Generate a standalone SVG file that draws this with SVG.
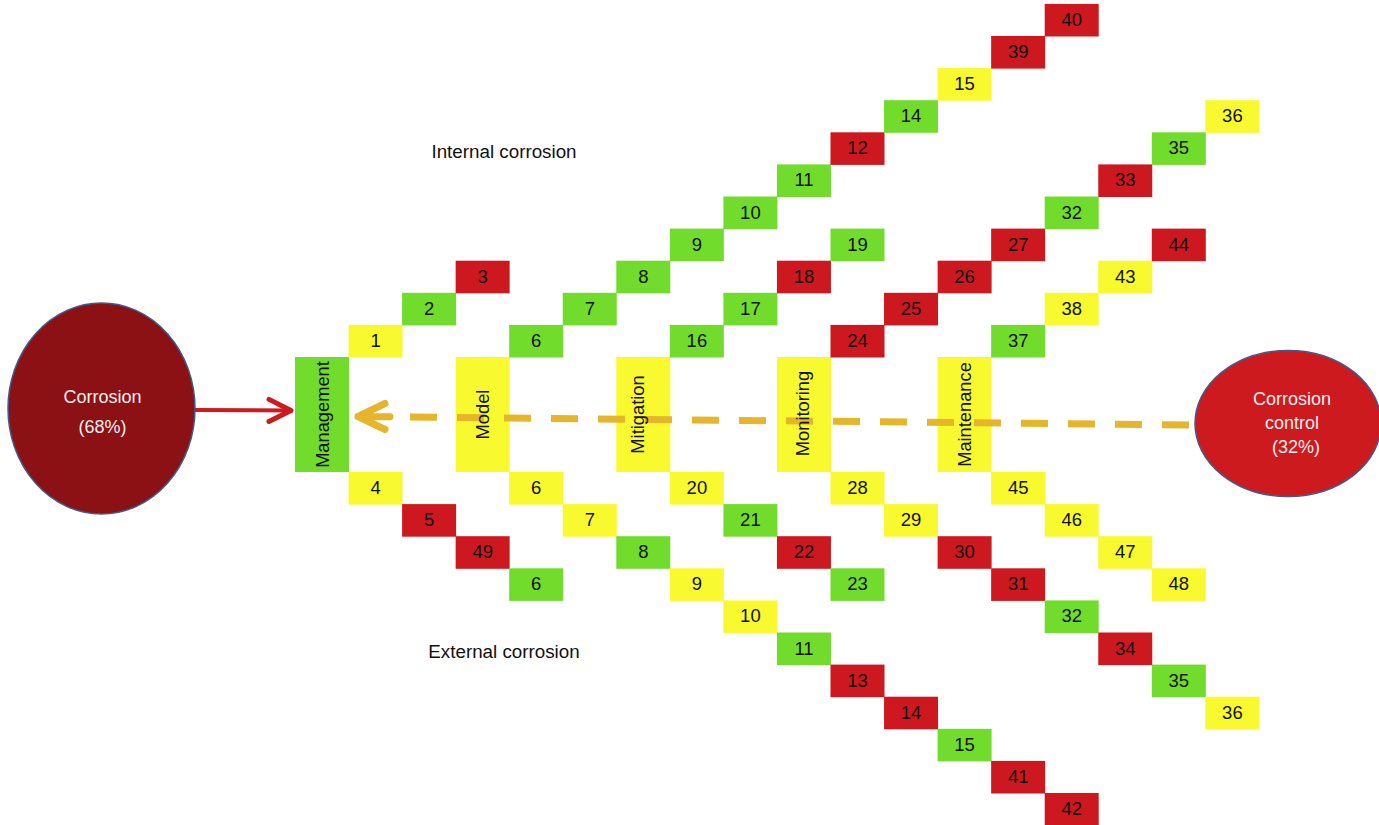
<svg xmlns="http://www.w3.org/2000/svg" width="1379" height="825" viewBox="0 0 1379 825">
  <style>
    text { font-family: "Liberation Sans", Arial, sans-serif; }
    .g { fill: #72DC2C; }
    .y { fill: #F9F92F; }
    .r { fill: #CC181E; }
    .num { font-size: 18.5px; fill: #111111; text-anchor: middle; }
    .hdr { font-size: 18.3px; fill: #111111; text-anchor: middle; }
    .lbl { font-size: 18.8px; fill: #111111; text-anchor: middle; }
    .ell { font-size: 18px; fill: #F4EEEE; text-anchor: middle; }
    .cause { stroke: #3E5C90; stroke-width: 1.5; }
  </style>
  <defs>
    <marker id="openHeadRed" viewBox="0 0 30 30" refX="26" refY="15" markerWidth="30" markerHeight="30" markerUnits="userSpaceOnUse" orient="auto">
      <path d="M4 4 L26 15 L4 26" fill="none" stroke="#CC1A1E" stroke-width="5" stroke-linecap="round" stroke-linejoin="round"/>
    </marker>
  </defs>

  <!-- cause / target ellipses -->
  <g id="corrosion">
    <ellipse class="cause" cx="101.5" cy="408.5" rx="93.5" ry="105.5" fill="#8B1114"/>
    <text class="ell" x="102.5" y="403">Corrosion</text>
    <text class="ell" x="102.5" y="433">(68%)</text>
  </g>
  <g id="corrosion-control">
    <ellipse class="cause" cx="1288" cy="423.5" rx="93" ry="73" fill="#CC1A1E"/>
    <text class="ell" x="1292" y="405">Corrosion</text>
    <text class="ell" x="1292" y="429">control</text>
    <text class="ell" x="1296" y="453">(32%)</text>
  </g>

  <!-- category header boxes -->
  <g id="management"><rect class="g" x="295" y="357" width="54" height="115"/></g>
  <g id="model"><rect class="y" x="455.65" y="357" width="54" height="115"/></g>
  <g id="mitigation"><rect class="y" x="616.3" y="357" width="54" height="115"/></g>
  <g id="monitoring"><rect class="y" x="776.95" y="357" width="54" height="115"/></g>
  <g id="maintenance"><rect class="y" x="937.6" y="357" width="54" height="115"/></g>

  <!-- branch labels -->
  <text id="internal-label" class="lbl" x="504" y="158">Internal corrosion</text>
  <text id="external-label" class="lbl" x="504" y="658">External corrosion</text>

  <!-- upper (internal) cells -->
  <g id="up-1"><rect class="y" x="348.55" y="324.9" width="54" height="32.6"/><text class="num" x="375.6" y="346.9">1</text></g>
  <g id="up-2"><rect class="g" x="402.1" y="292.8" width="54" height="32.6"/><text class="num" x="429.1" y="314.8">2</text></g>
  <g id="up-3"><rect class="r" x="455.65" y="260.7" width="54" height="32.6"/><text class="num" x="482.7" y="282.7">3</text></g>

  <g id="up-6"><rect class="g" x="509.2" y="324.9" width="54" height="32.6"/><text class="num" x="536.2" y="346.9">6</text></g>
  <g id="up-7"><rect class="g" x="562.75" y="292.8" width="54" height="32.6"/><text class="num" x="589.8" y="314.8">7</text></g>
  <g id="up-8"><rect class="g" x="616.3" y="260.7" width="54" height="32.6"/><text class="num" x="643.3" y="282.7">8</text></g>
  <g id="up-9"><rect class="g" x="669.85" y="228.6" width="54" height="32.6"/><text class="num" x="696.9" y="250.6">9</text></g>
  <g id="up-10"><rect class="g" x="723.4" y="196.5" width="54" height="32.6"/><text class="num" x="750.4" y="218.5">10</text></g>
  <g id="up-11"><rect class="g" x="776.95" y="164.4" width="54" height="32.6"/><text class="num" x="804" y="186.4">11</text></g>
  <g id="up-12"><rect class="r" x="830.5" y="132.3" width="54" height="32.6"/><text class="num" x="857.5" y="154.3">12</text></g>
  <g id="up-14"><rect class="g" x="884.05" y="100.2" width="54" height="32.6"/><text class="num" x="911.1" y="122.2">14</text></g>
  <g id="up-15"><rect class="y" x="937.6" y="68.1" width="54" height="32.6"/><text class="num" x="964.6" y="90.1">15</text></g>
  <g id="up-39"><rect class="r" x="991.15" y="36" width="54" height="32.6"/><text class="num" x="1018.2" y="58">39</text></g>
  <g id="up-40"><rect class="r" x="1044.7" y="3.9" width="54" height="32.6"/><text class="num" x="1071.7" y="25.9">40</text></g>

  <g id="up-16"><rect class="g" x="669.85" y="324.9" width="54" height="32.6"/><text class="num" x="696.9" y="346.9">16</text></g>
  <g id="up-17"><rect class="g" x="723.4" y="292.8" width="54" height="32.6"/><text class="num" x="750.4" y="314.8">17</text></g>
  <g id="up-18"><rect class="r" x="776.95" y="260.7" width="54" height="32.6"/><text class="num" x="804" y="282.7">18</text></g>
  <g id="up-19"><rect class="g" x="830.5" y="228.6" width="54" height="32.6"/><text class="num" x="857.5" y="250.6">19</text></g>

  <g id="up-24"><rect class="r" x="830.5" y="324.9" width="54" height="32.6"/><text class="num" x="857.5" y="346.9">24</text></g>
  <g id="up-25"><rect class="r" x="884.05" y="292.8" width="54" height="32.6"/><text class="num" x="911.1" y="314.8">25</text></g>
  <g id="up-26"><rect class="r" x="937.6" y="260.7" width="54" height="32.6"/><text class="num" x="964.6" y="282.7">26</text></g>
  <g id="up-27"><rect class="r" x="991.15" y="228.6" width="54" height="32.6"/><text class="num" x="1018.2" y="250.6">27</text></g>
  <g id="up-32"><rect class="g" x="1044.7" y="196.5" width="54" height="32.6"/><text class="num" x="1071.7" y="218.5">32</text></g>
  <g id="up-33"><rect class="r" x="1098.25" y="164.4" width="54" height="32.6"/><text class="num" x="1125.3" y="186.4">33</text></g>
  <g id="up-35"><rect class="g" x="1151.8" y="132.3" width="54" height="32.6"/><text class="num" x="1178.8" y="154.3">35</text></g>
  <g id="up-36"><rect class="y" x="1205.35" y="100.2" width="54" height="32.6"/><text class="num" x="1232.4" y="122.2">36</text></g>

  <g id="up-37"><rect class="g" x="991.15" y="324.9" width="54" height="32.6"/><text class="num" x="1018.2" y="346.9">37</text></g>
  <g id="up-38"><rect class="y" x="1044.7" y="292.8" width="54" height="32.6"/><text class="num" x="1071.7" y="314.8">38</text></g>
  <g id="up-43"><rect class="y" x="1098.25" y="260.7" width="54" height="32.6"/><text class="num" x="1125.3" y="282.7">43</text></g>
  <g id="up-44"><rect class="r" x="1151.8" y="228.6" width="54" height="32.6"/><text class="num" x="1178.8" y="250.6">44</text></g>

  <!-- lower (external) cells -->
  <g id="dn-4"><rect class="y" x="348.55" y="472" width="54" height="32.6"/><text class="num" x="375.6" y="494">4</text></g>
  <g id="dn-5"><rect class="r" x="402.1" y="504.1" width="54" height="32.6"/><text class="num" x="429.1" y="526.1">5</text></g>
  <g id="dn-49"><rect class="r" x="455.65" y="536.2" width="54" height="32.6"/><text class="num" x="482.7" y="558.2">49</text></g>
  <g id="dn-6b"><rect class="g" x="509.2" y="568.3" width="54" height="32.6"/><text class="num" x="536.2" y="590.3">6</text></g>

  <g id="dn-6"><rect class="y" x="509.2" y="472" width="54" height="32.6"/><text class="num" x="536.2" y="494">6</text></g>
  <g id="dn-7"><rect class="y" x="562.75" y="504.1" width="54" height="32.6"/><text class="num" x="589.8" y="526.1">7</text></g>
  <g id="dn-8"><rect class="g" x="616.3" y="536.2" width="54" height="32.6"/><text class="num" x="643.3" y="558.2">8</text></g>
  <g id="dn-9"><rect class="y" x="669.85" y="568.3" width="54" height="32.6"/><text class="num" x="696.9" y="590.3">9</text></g>
  <g id="dn-10"><rect class="y" x="723.4" y="600.4" width="54" height="32.6"/><text class="num" x="750.4" y="622.4">10</text></g>
  <g id="dn-11"><rect class="g" x="776.95" y="632.5" width="54" height="32.6"/><text class="num" x="804" y="654.5">11</text></g>
  <g id="dn-13"><rect class="r" x="830.5" y="664.6" width="54" height="32.6"/><text class="num" x="857.5" y="686.6">13</text></g>
  <g id="dn-14"><rect class="r" x="884.05" y="696.7" width="54" height="32.6"/><text class="num" x="911.1" y="718.7">14</text></g>
  <g id="dn-15"><rect class="g" x="937.6" y="728.8" width="54" height="32.6"/><text class="num" x="964.6" y="750.8">15</text></g>
  <g id="dn-41"><rect class="r" x="991.15" y="760.9" width="54" height="32.6"/><text class="num" x="1018.2" y="782.9">41</text></g>
  <g id="dn-42"><rect class="r" x="1044.7" y="793" width="54" height="32.6"/><text class="num" x="1071.7" y="815">42</text></g>

  <g id="dn-20"><rect class="y" x="669.85" y="472" width="54" height="32.6"/><text class="num" x="696.9" y="494">20</text></g>
  <g id="dn-21"><rect class="g" x="723.4" y="504.1" width="54" height="32.6"/><text class="num" x="750.4" y="526.1">21</text></g>
  <g id="dn-22"><rect class="r" x="776.95" y="536.2" width="54" height="32.6"/><text class="num" x="804" y="558.2">22</text></g>
  <g id="dn-23"><rect class="g" x="830.5" y="568.3" width="54" height="32.6"/><text class="num" x="857.5" y="590.3">23</text></g>

  <g id="dn-28"><rect class="y" x="830.5" y="472" width="54" height="32.6"/><text class="num" x="857.5" y="494">28</text></g>
  <g id="dn-29"><rect class="y" x="884.05" y="504.1" width="54" height="32.6"/><text class="num" x="911.1" y="526.1">29</text></g>
  <g id="dn-30"><rect class="r" x="937.6" y="536.2" width="54" height="32.6"/><text class="num" x="964.6" y="558.2">30</text></g>
  <g id="dn-31"><rect class="r" x="991.15" y="568.3" width="54" height="32.6"/><text class="num" x="1018.2" y="590.3">31</text></g>
  <g id="dn-32"><rect class="g" x="1044.7" y="600.4" width="54" height="32.6"/><text class="num" x="1071.7" y="622.4">32</text></g>
  <g id="dn-34"><rect class="r" x="1098.25" y="632.5" width="54" height="32.6"/><text class="num" x="1125.3" y="654.5">34</text></g>
  <g id="dn-35"><rect class="g" x="1151.8" y="664.6" width="54" height="32.6"/><text class="num" x="1178.8" y="686.6">35</text></g>
  <g id="dn-36"><rect class="y" x="1205.35" y="696.7" width="54" height="32.6"/><text class="num" x="1232.4" y="718.7">36</text></g>

  <g id="dn-45"><rect class="y" x="991.15" y="472" width="54" height="32.6"/><text class="num" x="1018.2" y="494">45</text></g>
  <g id="dn-46"><rect class="y" x="1044.7" y="504.1" width="54" height="32.6"/><text class="num" x="1071.7" y="526.1">46</text></g>
  <g id="dn-47"><rect class="y" x="1098.25" y="536.2" width="54" height="32.6"/><text class="num" x="1125.3" y="558.2">47</text></g>
  <g id="dn-48"><rect class="y" x="1151.8" y="568.3" width="54" height="32.6"/><text class="num" x="1178.8" y="590.3">48</text></g>

  <!-- connectors (drawn over the header boxes, under their labels) -->
  <g id="connectors">
    <line x1="195" y1="410" x2="291" y2="410.5" stroke="#CC1A1E" stroke-width="4" marker-end="url(#openHeadRed)"/>
    <line x1="410" y1="417" x2="1189" y2="425" stroke="#E5B52B" stroke-width="7" stroke-dasharray="27 20"/>
    <path d="M385 403.5 L358 416.5 L385 429.5 M358 416.5 L390 416.8" fill="none" stroke="#E5B52B" stroke-width="7" stroke-linecap="round" stroke-linejoin="round"/>
  </g>

  <!-- category header labels -->
  <g id="header-labels">
    <text id="management-label" class="hdr" transform="translate(329 414.5) rotate(-90)">Management</text>
    <text id="model-label" class="hdr" transform="translate(489 414.5) rotate(-90)">Model</text>
    <text id="mitigation-label" class="hdr" transform="translate(643.5 414.5) rotate(-90)">Mitigation</text>
    <text id="monitoring-label" class="hdr" transform="translate(809 413.5) rotate(-90)">Monitoring</text>
    <text id="maintenance-label" class="hdr" transform="translate(970.5 414.5) rotate(-90)">Maintenance</text>
  </g>
</svg>
